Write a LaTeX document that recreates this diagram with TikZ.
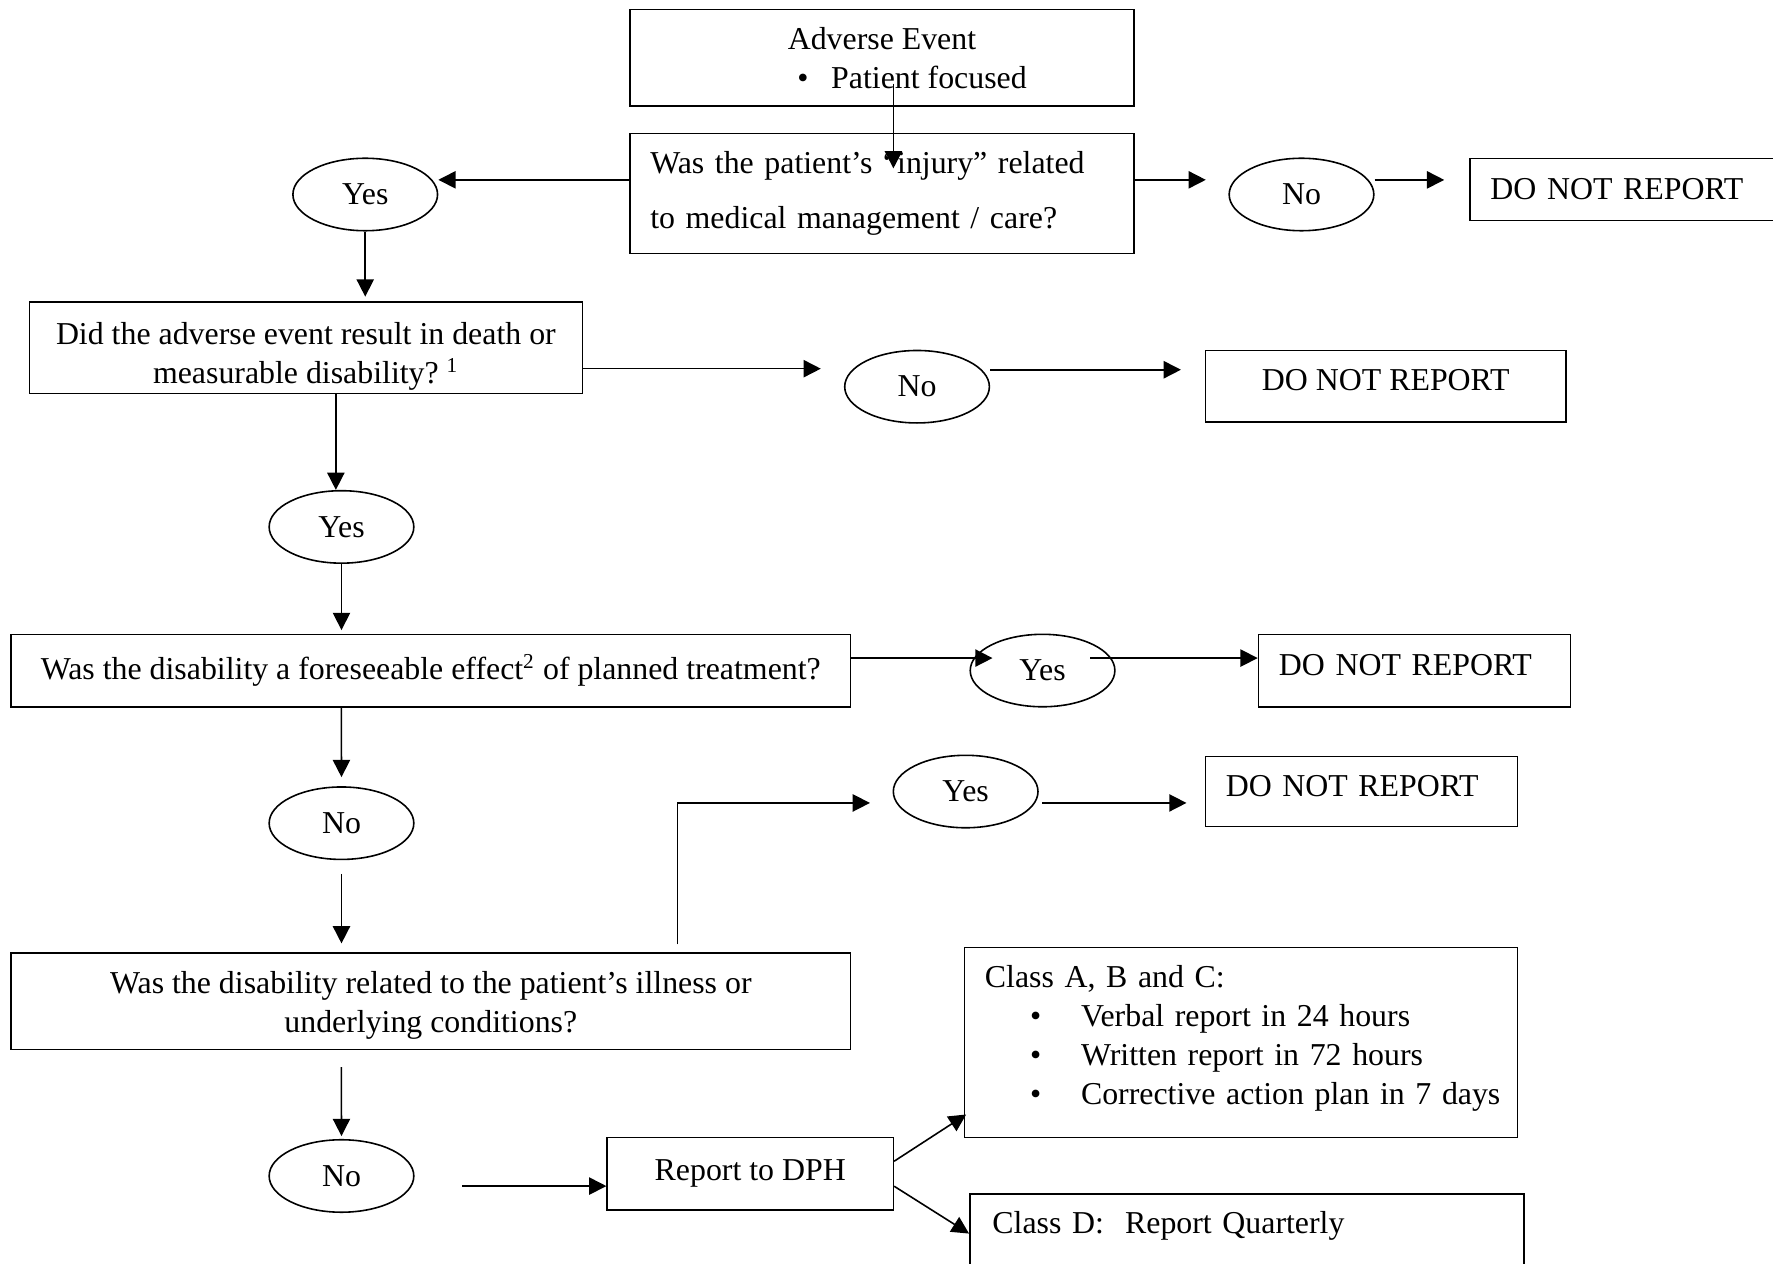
\documentclass[tikz,border=0pt]{standalone}
\usepackage{fontspec}
\setmainfont{Liberation Serif}
\usetikzlibrary{shapes.geometric,arrows.meta}

\begin{document}
\begin{tikzpicture}[x=0.426pt,y=-0.426pt,line width=0.6pt,
        every node/.style={font=\fontsize{12pt}{14.7pt}\selectfont\frenchspacing},
        box/.style={draw,rectangle,inner sep=0pt,align=center},
        lbox/.style={draw,rectangle,inner xsep=7.7pt,inner ysep=0pt,align=left},
        oval/.style={draw,ellipse,inner sep=0pt,minimum width=54.5pt,minimum height=27.3pt},
        arr/.style={-{Triangle[length=6.5pt,width=6.5pt]}}]
    \useasboundingbox (0,0) rectangle (1568,1117);
    \node[box,minimum width=190pt,minimum height=36.2pt] (ae) at (780,51)
        {Adverse Event\\ \hspace*{22.6pt}\makebox[12.8pt][l]{\textbullet}Patient focused};
    \node[lbox,text width=174.6pt,minimum height=45.2pt] (q1) at (780,171)
        {Was the patient’s “injury” related\\[6.2pt] to medical management / care?};
    \node[oval] (yes1) at (323,172) {Yes};
    \node[oval] (no1) at (1151,172) {No};
    \node[lbox,text width=112.4pt,minimum height=23.4pt] (dnr1) at (1450,167.5) {DO NOT REPORT};
    \node[box,minimum width=208.3pt,minimum height=34.5pt] (q2) at (270.5,307.5)
        {\rule{0pt}{15.1pt}Did the adverse event result in death or\\ measurable disability? \textsuperscript{1}};
    \node[oval] (no2) at (811,342) {No};
    \node[box,minimum width=135.9pt,minimum height=26.8pt,text depth=4.5pt] (dnr2) at (1225.5,341.5) {DO NOT REPORT};
    \node[oval] (yes2) at (302,466) {Yes};
    \node[box,minimum width=316.1pt,minimum height=27.3pt] (q3) at (381,593)
        {Was the disability a foreseeable effect\textsuperscript{2} of planned treatment?};
    \node[oval] (yes3) at (922,593) {Yes};
    \node[lbox,text width=102.2pt,minimum height=27.3pt,text depth=4.5pt] (dnr3) at (1251,593) {DO NOT REPORT};
    \node[oval] (no3) at (302,728) {No};
    \node[box,minimum width=316.1pt,minimum height=36.2pt] (q4) at (381,885.5)
        {\rule{0pt}{11.7pt}Was the disability related to the patient’s illness or\\ underlying conditions?};
    \node[oval] (yes4) at (854,700) {Yes};
    \node[lbox,text width=102.2pt,minimum height=26.4pt,text depth=4.5pt] (dnr4) at (1204,700) {DO NOT REPORT};
    \node[oval] (no4) at (302,1040) {No};
    \node[box,minimum width=107.8pt,minimum height=27.3pt] (dph) at (663.5,1038) {Report to DPH};
    \node[lbox,text width=192.9pt,minimum height=71.6pt] (abc) at (1097.5,922)
        {Class A, B and C:\\
        \mbox{\hspace*{17pt}\makebox[19.2pt][l]{\textbullet}Verbal report in 24 hours}\\
        \mbox{\hspace*{17pt}\makebox[19.2pt][l]{\textbullet}Written report in 72 hours}\\
        \mbox{\hspace*{17pt}\makebox[19.2pt][l]{\textbullet}Corrective action plan in 7 days\rule[-6pt]{0pt}{6pt}}};
    \node[lbox,inner xsep=8.5pt,text width=191.7pt,text height=14.9pt,text depth=20pt,anchor=north west]
        (clsd) at (857,1055) {Class D:\ \ Report Quarterly};

    \draw[arr] ([xshift=4.3pt,yshift=-9.8pt]ae.center) -- ([xshift=4.3pt,yshift=-13.5pt]q1.north);
    \draw[arr] ([yshift=5.1pt]q1.west) -- ([yshift=5.1pt]q1.west -| yes1.east);
    \draw[arr] ([yshift=5.1pt]q1.east) -- ([xshift=-8.5pt,yshift=5.1pt]q1.east -| no1.west);
    \draw[arr] ([yshift=5.5pt]no1.east) -- ([xshift=-9.4pt,yshift=5.5pt]no1.east -| dnr1.west);
    \draw[arr] (yes1.south) -- ([yshift=1.7pt]yes1.south |- q2.north);
    \draw[arr] ([yshift=-7.9pt]q2.east) -- ([xshift=-8.7pt,yshift=-7.9pt]q2.east -| no2.west);
    \draw[arr] ([yshift=6.4pt]no2.east) -- ([xshift=-8.9pt,yshift=6.4pt]no2.east -| dnr2.west);
    \draw[arr] ([xshift=11.3pt]q2.south) -- ([xshift=11.3pt]q2.south |- yes2.north);
    \draw[arr] (yes2.south) -- ([yshift=1.3pt]yes2.south |- q3.north);
    \draw[arr] ([yshift=4.7pt]q3.east) -- ([xshift=8.7pt,yshift=4.7pt]q3.east -| yes3.west);
    \draw[arr] ([xshift=18pt,yshift=4.7pt]yes3.center) -- ([yshift=4.7pt]yes3.center -| dnr3.west);
    \draw[arr] ([xshift=-33.7pt]q3.south) -- ([yshift=3.4pt]no3.north);
    \draw[arr] ([yshift=-5.1pt]no3.south) -- ([yshift=3.4pt]no3.south |- q4.north);
    \draw[arr] ([xshift=92.9pt,yshift=3pt]q4.north) |- ([xshift=-8.5pt,yshift=-4.3pt]yes4.west);
    \draw[arr] ([xshift=1.3pt,yshift=-4.3pt]yes4.east) -- ([xshift=-6.8pt,yshift=-4.3pt]yes4.east -| dnr4.west);
    \draw[arr] ([xshift=-33.7pt,yshift=-6.4pt]q4.south) -- ([yshift=1.1pt]no4.north);
    \draw[arr] ([xshift=17.9pt,yshift=-3.8pt]no4.east) -- ([yshift=-3.8pt]no4.east -| dph.west);
    \draw[arr] ([yshift=4.7pt]dph.east) -- ([xshift=0.9pt,yshift=9pt]abc.south west);
    \draw[arr] ([yshift=-4.7pt]dph.east) -- ([yshift=-15.3pt]clsd.north west);
\end{tikzpicture}
\end{document}
